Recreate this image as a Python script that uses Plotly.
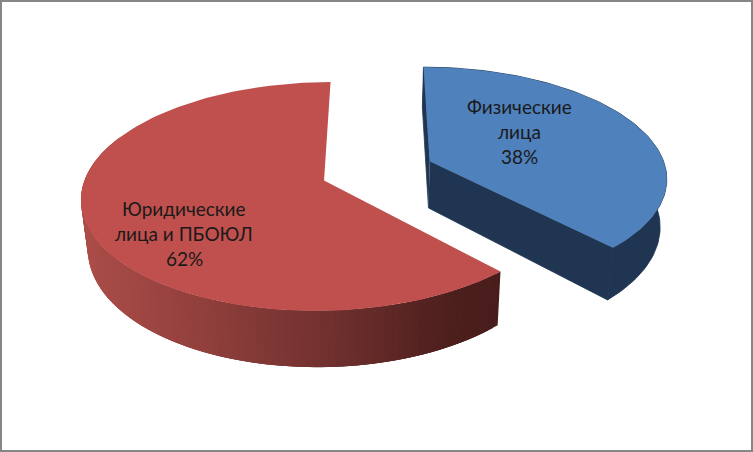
import numpy as np
import plotly.graph_objects as go

categories = ["Физические лица", "Юридические лица и ПБОЮЛ"]
values = [38, 62]
label_lines = [["Физические", "лица", "38%"], ["Юридические", "лица и ПБОЮЛ", "62%"]]
label_centers = [(519, 106), (184, 208)]
top_colors = ["#4F81BD", "#C0504D"]

W, H = 753, 452
LINE_GAP = 25
EXPLODE = 0.24
VX, F, W0, K = 377.5, 240.0, 1.014, 0.139
TOP_H, TOP_C = -628.0, 810.0
BOT_H, BOT_C, BOT_S = -632.0, 862.0, 0.977
RED_STOPS = [(85, (172, 77, 73)), (200, (146, 64, 61)), (330, (112, 48, 46)), (450, (76, 31, 29)), (500, (72, 29, 27))]
BLUE_SIDE = "#1F3552"
WALL_LAST_ANGLE = np.radians(290)  # the rest of the red rim lies behind its own top


def project(x, z, bottom=False):
    w = W0 + K * np.asarray(z)
    if bottom:
        return VX + BOT_S * F * np.asarray(x) / w, BOT_H + BOT_C / w
    return VX + F * np.asarray(x) / w, TOP_H + TOP_C / w


def rim(theta, ox, oz):
    return ox + np.sin(theta), oz + np.cos(theta)


def red_side(px):
    xs = [s[0] for s in RED_STOPS]
    rgb = [np.interp(px, xs, [s[1][i] for s in RED_STOPS]) for i in range(3)]
    return "rgb(%d,%d,%d)" % tuple(int(round(c)) for c in rgb)


def poly(fig, xs, ys, color, lw=0.0):
    fig.add_trace(go.Scatter(x=list(xs), y=list(ys), mode="lines", fill="toself", fillcolor=color,
                             line=dict(color=color, width=lw), hoverinfo="skip", showlegend=False))


fig = go.Figure()
total = sum(values)
start = 0.0
slices = []
for v in values:
    sweep = 2 * np.pi * v / total
    slices.append((start, start + sweep))
    start += sweep

mid = (slices[0][0] + slices[0][1]) / 2
offsets = [(EXPLODE * np.sin(mid), EXPLODE * np.cos(mid)), (-EXPLODE * np.sin(mid), -EXPLODE * np.cos(mid))]

for i in [1, 0]:
    a0, a1 = slices[i]
    ox, oz = offsets[i]
    n = max(int((a1 - a0) / np.radians(1.5)), 2)
    th = np.linspace(a0, a1, n + 1)
    rx, rz = rim(th, ox, oz)
    tx, ty = project(rx, rz)
    bx, by = project(rx, rz, True)
    ax_t, ay_t = project(ox, oz)
    ax_b, ay_b = project(ox, oz, True)
    if i == 0:
        # cut faces and outer wall share one flat colour
        poly(fig, [ax_t, tx[0], bx[0], ax_b], [ay_t, ty[0], by[0], ay_b], BLUE_SIDE, 0.8)
        poly(fig, [ax_t, tx[-1], bx[-1], ax_b], [ay_t, ty[-1], by[-1], ay_b], BLUE_SIDE, 0.8)
        poly(fig, [*tx, *bx[::-1]], [*ty, *by[::-1]], BLUE_SIDE, 0.8)
    else:
        # outer wall: overlapping strips, each repainted over the previous one, keep seams closed
        for j in range(n):
            if th[j] > WALL_LAST_ANGLE:
                break
            k = min(j + 3, n)
            c = red_side((bx[j] + bx[j + 1]) / 2)
            poly(fig, [tx[j], tx[k], bx[k], bx[j]], [ty[j], ty[k], by[k], by[j]], c)
    # top
    poly(fig, [ax_t, *tx], [ay_t, *ty], top_colors[i])

annotations = []
for lines, (cx, cy) in zip(label_lines, label_centers):
    for k, t in enumerate(lines):
        annotations.append(dict(x=cx, y=cy + k * LINE_GAP, text=t, showarrow=False, xref="x", yref="y",
                                xanchor="center", yanchor="middle",
                                font=dict(family="Lato", size=19, color="#1a1a1a")))

fig.update_layout(
    width=W, height=H, margin=dict(l=0, r=0, t=0, b=0), paper_bgcolor="white", plot_bgcolor="white",
    xaxis=dict(range=[0, W], visible=False, fixedrange=True),
    yaxis=dict(range=[H, 0], visible=False, fixedrange=True),
    annotations=annotations, showlegend=False,
    shapes=[dict(type="rect", xref="x", yref="y", x0=1, y0=1, x1=W - 1, y1=H - 1,
                 line=dict(color="#868686", width=2), fillcolor="rgba(0,0,0,0)", layer="above")],
)
fig.write_html("out.html", config={"displayModeBar": False},
               post_script="document.body.style.margin='0';document.body.style.overflow='hidden';")
